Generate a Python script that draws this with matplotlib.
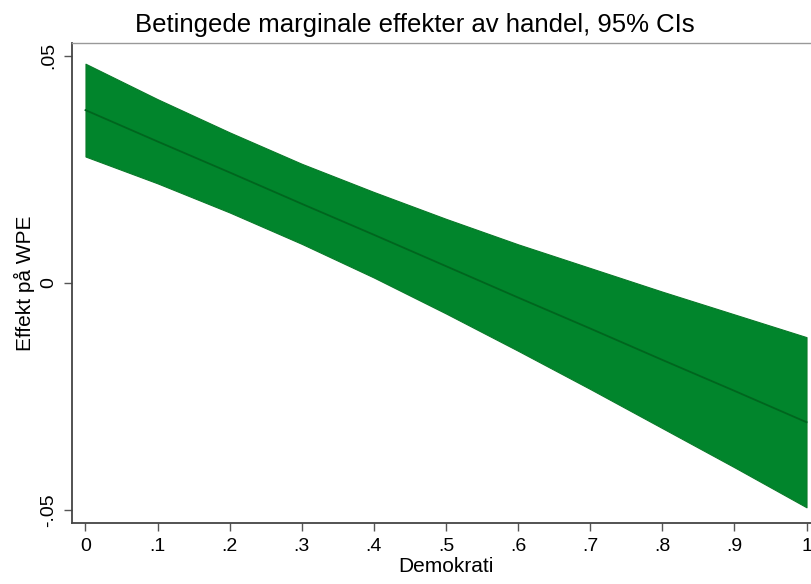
import matplotlib
matplotlib.use("Agg")
import matplotlib.pyplot as plt

plt.rcParams['font.family'] = ['Liberation Sans', 'DejaVu Sans']

demokrati = [0.0, 0.1, 0.2, 0.3, 0.4, 0.5, 0.6, 0.7, 0.8, 0.9, 1.0]
effekt = [0.0380, 0.0311, 0.0243, 0.0174, 0.0106, 0.0037, -0.0032, -0.0100, -0.0169, -0.0237, -0.0306]
ci_upper = [0.0482, 0.0404, 0.0331, 0.0262, 0.0200, 0.0141, 0.0085, 0.0033, -0.0019, -0.0069, -0.0119]
ci_lower = [0.0278, 0.0219, 0.0155, 0.0086, 0.0012, -0.0067, -0.0149, -0.0233, -0.0319, -0.0405, -0.0493]

x_ticks = [0, 0.1, 0.2, 0.3, 0.4, 0.5, 0.6, 0.7, 0.8, 0.9, 1.0]
x_ticklabels = ["0", ".1", ".2", ".3", ".4", ".5", ".6", ".7", ".8", ".9", "1"]
y_ticks = [-0.05, 0, 0.05]
y_ticklabels = ["-.05", "0", ".05"]

fig = plt.figure(figsize=(8.11, 5.84), dpi=100)
ax = fig.add_axes([72/811, 61/584, 748/811, 480/584])

ax.fill_between(demokrati, ci_lower, ci_upper, facecolor='#01852c', edgecolor='#0a7a2a', linewidth=0.8)
ax.plot(demokrati, effekt, color='#00651e', linewidth=1.3)

ax.set_xlim(-0.0187, 1.0187)
ax.set_ylim(-0.05275, 0.05275)
ax.set_xticks(x_ticks)
ax.set_xticklabels(x_ticklabels, fontsize=14)
ax.set_yticks(y_ticks)
ax.set_yticklabels(y_ticklabels, fontsize=14, rotation=90, va='center')
ax.tick_params(axis='both', direction='out', length=5.5, width=1, color='#555555')
ax.tick_params(axis='x', pad=5)
ax.tick_params(axis='y', pad=5)

for side in ['left', 'bottom']:
    ax.spines[side].set_color('#444444')
    ax.spines[side].set_linewidth(1.3)
ax.spines['top'].set_color('#999999')
ax.spines['top'].set_linewidth(1.0)
ax.spines['right'].set_visible(False)

ax.set_xlabel("Demokrati", fontsize=15, labelpad=2)
ax.set_ylabel("Effekt på WPE", fontsize=15, labelpad=4)
fig.text(415/811, 1 - 25/584, "Betingede marginale effekter av handel, 95% CIs",
         ha='center', va='center', fontsize=18.5)

fig.savefig("out.png", dpi=100)
